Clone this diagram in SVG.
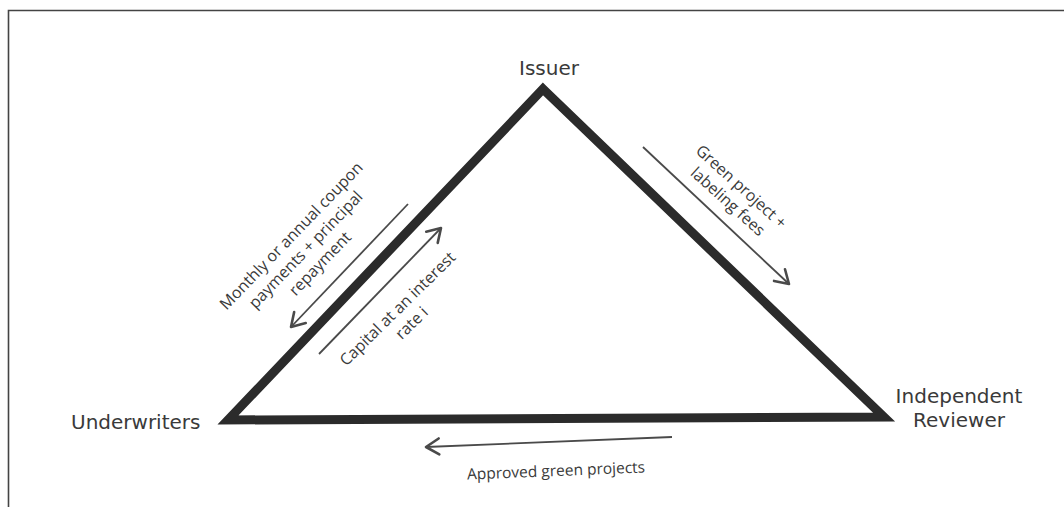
<svg xmlns="http://www.w3.org/2000/svg" width="1064" height="507" viewBox="0 0 1064 507">
<defs>
<marker id="ah" markerUnits="userSpaceOnUse" markerWidth="20" markerHeight="20" viewBox="0 0 20 20" refX="16" refY="10" orient="auto">
<path d="M3,2 L16,10 L3,18" fill="none" stroke="#4a4a4a" stroke-width="2.6" stroke-linecap="round" stroke-linejoin="round"/>
</marker>
<style>
.lbl{font-family:"Open Sans","Liberation Sans",sans-serif;fill:#3a3a3a;}
.node{font-family:"DejaVu Sans","Liberation Sans",sans-serif;font-size:20px;}
.edge{font-size:16px;}
.arr{stroke:#4a4a4a;stroke-width:1.8;fill:none;marker-end:url(#ah);}
</style>
</defs>
<rect width="1064" height="507" fill="#ffffff"/>
<path d="M8.5,507 V10.5 H1064" fill="none" stroke="#444" stroke-width="1.6"/>
<g id="triangle">
<path d="M543,89 L884,417 L228,420 Z" fill="none" stroke="#2b2b2b" stroke-width="9" stroke-linejoin="miter"/>
</g>
<g id="issuer"><text class="lbl node" x="549" y="75" text-anchor="middle">Issuer</text></g>
<g id="underwriters"><text class="lbl node" x="71" y="429">Underwriters</text></g>
<g id="reviewer">
<text class="lbl node" x="959" y="403" text-anchor="middle">Independent</text>
<text class="lbl node" x="959" y="427" text-anchor="middle">Reviewer</text>
</g>
<g id="connectors">
<line class="arr" x1="408" y1="204" x2="291" y2="327"/>
<line class="arr" x1="319" y1="354" x2="441" y2="228"/>
<line class="arr" x1="643" y1="147" x2="789" y2="284"/>
<line class="arr" x1="672" y1="437" x2="426" y2="447"/>
</g>
<g id="label-coupon" transform="translate(306,250) rotate(-46)">
<text class="lbl edge" text-anchor="middle"><tspan x="0" y="-15">Monthly or annual coupon</tspan><tspan x="0" y="5">payments + principal</tspan><tspan x="0" y="25">repayment</tspan></text>
</g>
<g id="label-capital" transform="translate(398,309) rotate(-44.5)">
<text class="lbl edge" text-anchor="middle"><tspan x="0" y="5">Capital at an interest</tspan><tspan x="0" y="25">rate i</tspan></text>
</g>
<g id="label-fees" transform="translate(741,187) rotate(42)">
<text class="lbl edge" text-anchor="middle"><tspan x="0" y="5">Green project +</tspan><tspan x="0" y="25">labeling fees</tspan></text>
</g>
<g id="label-approved" transform="translate(556,471) rotate(-2.3)">
<text class="lbl edge" style="font-size:15.5px" text-anchor="middle" x="0" y="5">Approved green projects</text>
</g>
</svg>
